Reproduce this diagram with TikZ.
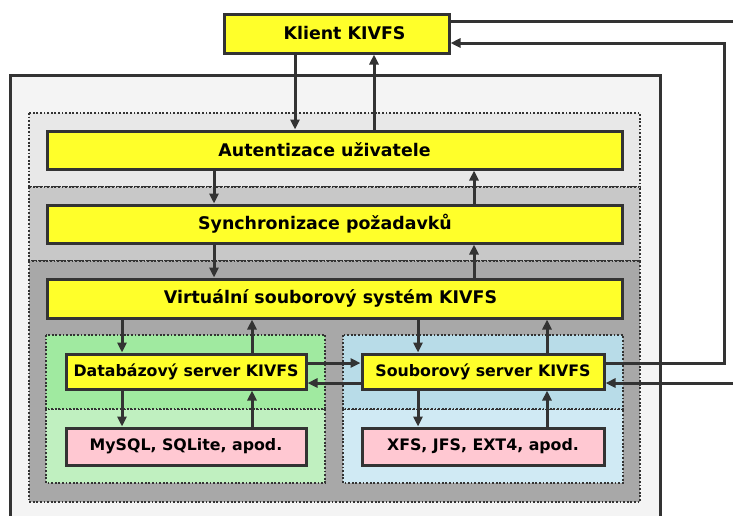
\documentclass[tikz,border=0pt]{standalone}
\usepackage{fontspec}
\setmainfont{DejaVu Sans}
\usetikzlibrary{arrows.meta}
\definecolor{boxyellow}{RGB}{255,255,42}
\definecolor{boxpink}{RGB}{255,200,210}
\definecolor{edge}{RGB}{51,51,51}
\definecolor{frameback}{RGB}{244,244,244}
\definecolor{layerA}{RGB}{232,232,232}
\definecolor{layerB}{RGB}{200,200,200}
\definecolor{layerC}{RGB}{168,168,168}
\definecolor{greenhi}{RGB}{160,234,160}
\definecolor{greenlo}{RGB}{192,240,192}
\definecolor{bluehi}{RGB}{184,220,232}
\definecolor{bluelo}{RGB}{208,234,244}

\begin{document}
\begin{tikzpicture}[x=1pt,y=-1pt,>={Triangle[length=10pt,width=9pt]},
  font=\fontsize{17.4}{20}\selectfont\bfseries,line cap=butt,
  layer/.style={draw=edge,line width=1.6pt,dash pattern=on 1.8pt off 1.8pt},
  part/.style={draw=edge,line width=3pt,fill=boxyellow,inner sep=0pt},
  small/.style={font=\fontsize{15.8}{18}\selectfont\bfseries},
  store/.style={part,small,fill=boxpink},
  arr/.style={->,draw=edge,line width=3pt},
  wire/.style={draw=edge,line width=3pt}]
\useasboundingbox (0,0) rectangle (733,515);
\clip (0,0) rectangle (733,515);
\fill[white] (0,0) rectangle (733,515);
\draw[draw=edge,fill=frameback,line width=3pt] (10,75) rectangle (660,540);
\draw[layer,fill=layerA] (29,113) rectangle (640,187);
\draw[layer,fill=layerB] (29,187) rectangle (640,261);
\draw[layer,fill=layerC] (29,261) rectangle (640,502);
\draw[layer,fill=greenlo] (46,409) rectangle (325,483);
\draw[layer,fill=greenhi] (46,335) rectangle (325,409);
\draw[layer,fill=bluelo] (343,409) rectangle (623,483);
\draw[layer,fill=bluehi] (343,335) rectangle (623,409);

\node[part,minimum width=225pt,minimum height=39pt] (klient) at (336.5,33.5) {Klient KIVFS\hspace*{-16pt}};
\node[part,minimum width=575pt,minimum height=38pt] (auth) at (334.5,150) {\hspace*{-20pt}Autentizace uživatele};
\node[part,minimum width=575pt,minimum height=38pt] (sync) at (334.5,224) {\hspace*{-19pt}Synchronizace požadavků};
\node[part,minimum width=575pt,minimum height=39pt] (vfs) at (334.5,298.5) {\hspace*{-8pt}Virtuální souborový systém KIVFS};
\node[part,small,minimum width=240pt,minimum height=35pt] (db) at (186,371.5) {Databázový server KIVFS};
\node[store,minimum width=240pt,minimum height=37pt] (sql) at (186,446.5) {MySQL, SQLite, apod.};
\node[part,small,minimum width=242pt,minimum height=35pt] (fs) at (483,371.5) {Souborový server KIVFS};
\node[store,minimum width=242pt,minimum height=37pt] (disk) at (483,446.5) {XFS, JFS, EXT4, apod.};

\coordinate (outA) at (745,21);
\coordinate (outB) at (745,383);
\coordinate (turn) at (724,43);

\draw[arr] (295,0 |- klient.south) -- (295,0 |- auth.north);
\draw[arr] (374,0 |- auth.north) -- (374,0 |- klient.south);
\draw[arr] (214,0 |- auth.south) -- (214,0 |- sync.north);
\draw[arr] (474,0 |- sync.north) -- (474,0 |- auth.south);
\draw[arr] (214,0 |- sync.south) -- (214,0 |- vfs.north);
\draw[arr] (474,0 |- vfs.north) -- (474,0 |- sync.south);
\draw[arr] (122,0 |- vfs.south) -- (122,0 |- db.north);
\draw[arr] (252,0 |- db.north) -- (252,0 |- vfs.south);
\draw[arr] (418,0 |- vfs.south) -- (418,0 |- fs.north);
\draw[arr] (547,0 |- fs.north) -- (547,0 |- vfs.south);
\draw[arr] (122,0 |- db.south) -- (122,0 |- sql.north);
\draw[arr] (252,0 |- sql.north) -- (252,0 |- db.south);
\draw[arr] (418,0 |- fs.south) -- (418,0 |- disk.north);
\draw[arr] (547,0 |- disk.north) -- (547,0 |- fs.south);
\draw[arr] (db.east |- 0,363) -- (fs.west |- 0,363);
\draw[arr] (fs.west |- 0,383) -- (db.east |- 0,383);
\draw[wire] (klient.east |- outA) -- (outA);
\draw[arr] (fs.east |- 0,363) -| (turn) -- (klient.east |- turn);
\draw[arr] (outB) -- (fs.east |- outB);
\end{tikzpicture}
\end{document}
